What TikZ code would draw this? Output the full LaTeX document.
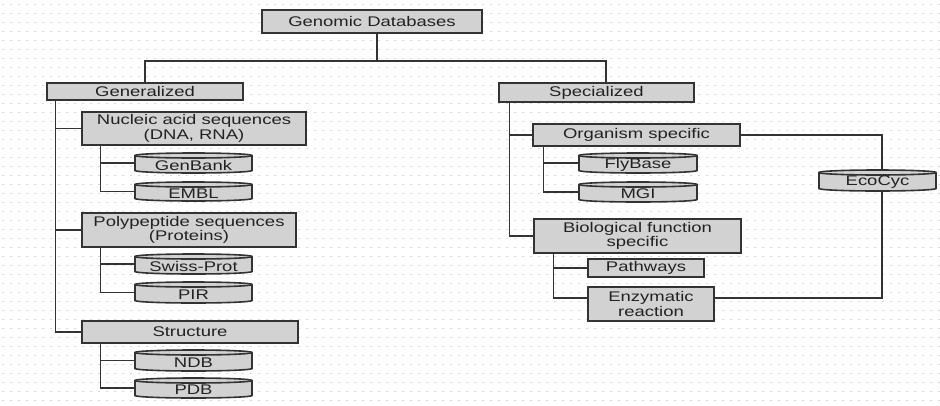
\documentclass[tikz,border=0pt]{standalone}
\usepackage{fontspec}
\newfontfamily\dfont[FakeStretch=1.32]{Liberation Sans}
\definecolor{edge}{HTML}{333333}
\definecolor{boxfill}{HTML}{D2D2D2}
\definecolor{txt}{HTML}{222222}
\definecolor{dotc}{HTML}{D8D8D8}
\newcommand\bx[6]{\node[box, minimum width={#4-#2}, minimum height={#5-#3}] (#1) at ({(#2+#4)/2},{-(#3+#5)/2}) {#6};}
\newcommand\cyl[6]{%
  \pgfmathsetmacro\cxa{#2}\pgfmathsetmacro\cxb{#4}%
  \pgfmathsetmacro\cya{-#3}\pgfmathsetmacro\cyb{-#5}%
  \pgfmathsetmacro\crx{(#4-#2)/2}%
  \filldraw[cylst] (\cxa,\cya-2.5) -- (\cxa,\cyb+2.5) arc[start angle=180,end angle=360,x radius=\crx,y radius=2.5] -- (\cxb,\cya-2.5) arc[start angle=0,end angle=180,x radius=\crx,y radius=2.5] -- cycle;
  \draw[cylst] (\cxa,\cya-2.5) arc[start angle=180,end angle=360,x radius=\crx,y radius=2.5];
  \node[minimum width={#4-#2}, minimum height={#5-#3}] (#1) at ({(#2+#4)/2},{-(#3+#5)/2}) {};
  \node at ({(#2+#4)/2},{-(#3+#5)/2-2}) {#6};}
\begin{document}
\begin{tikzpicture}[x=1pt,y=1pt,
  every node/.style={font=\dfont\fontsize{14}{14.5}\selectfont, text=txt, align=center, inner sep=0pt},
  box/.style={draw=edge, line width=1.6pt, fill=boxfill},
  cylst/.style={draw=edge, line width=1.6pt, fill=boxfill},
  link/.style={draw=edge, line width=1.4pt}]
\useasboundingbox (0,0) rectangle (940,-405);
\fill[white] (0,0) rectangle (940,-405);
\foreach \j in {0,...,44} {\foreach \i in {0,...,117} {\fill[dotc] ({\i*8+2},{-\j*9-4}) rectangle ++(2,-1);}}
% boxes
\bx{root}{262}{10}{482}{33}{Genomic Databases}
\bx{gen}{47}{83}{243}{100}{Generalized}
\bx{nuc}{82}{112}{306}{145}{Nucleic acid sequences\\(DNA, RNA)}
\bx{poly}{82}{213}{296}{247}{Polypeptide sequences\\(Proteins)}
\bx{struc}{82}{321}{298}{343}{Structure}
\bx{spec}{499}{83}{694}{102}{Specialized}
\bx{org}{533}{124}{740}{146}{Organism specific}
\bx{bio}{534}{219}{741}{253}{Biological function\\specific}
\bx{path}{588}{259}{704}{277}{Pathways}
\bx{enz}{588}{287}{714}{321}{Enzymatic\\reaction}
% cylinders
\cyl{genbank}{135}{153}{252}{173}{GenBank}
\cyl{embl}{135}{182}{252}{201}{EMBL}
\cyl{swiss}{135}{254}{252}{274}{Swiss-Prot}
\cyl{pir}{135}{282}{252}{303}{PIR}
\cyl{ndb}{135}{350}{252}{371}{NDB}
\cyl{pdb}{135}{378}{252}{398}{PDB}
\cyl{fly}{579}{153}{697}{173}{FlyBase}
\cyl{mgi}{579}{182}{697}{202}{MGI}
\cyl{eco}{819}{170}{936}{191}{EcoCyc}
% connectors
\coordinate (rj) at (377,-61);
\draw[link] ([xshift=5pt]root.south) -- (rj);
\draw[link] (gen.north) |- (rj) -| ([xshift=9.5pt]spec.north);
\coordinate (gt) at ([xshift=9pt]gen.south west);
\draw[link] (gt) |- (struc.west);
\draw[link] (gt |- nuc.west) -- (nuc.west);
\draw[link] (gt |- poly.west) -- (poly.west);
\coordinate (nt) at ([xshift=19pt]nuc.south west);
\draw[link] (nt) |- (embl.west);
\draw[link] (nt |- genbank.west) -- (genbank.west);
\coordinate (pt) at ([xshift=19pt]poly.south west);
\draw[link] (pt) |- (pir.west);
\draw[link] (pt |- swiss.west) -- (swiss.west);
\coordinate (st) at ([xshift=19pt]struc.south west);
\draw[link] (st) |- (pdb.west);
\draw[link] (st |- ndb.west) -- (ndb.west);
\coordinate (spt) at ([xshift=11pt]spec.south west);
\draw[link] (spt) |- (bio.west);
\draw[link] (spt |- org.west) -- (org.west);
\coordinate (ot) at ([xshift=11pt]org.south west);
\draw[link] (ot) |- (mgi.west);
\draw[link] (ot |- fly.west) -- (fly.west);
\coordinate (bt) at ([xshift=20pt]bio.south west);
\draw[link] (bt) |- ([yshift=6pt]enz.west);
\draw[link] (bt |- path.west) -- (path.west);
\draw[link] (org.east) -| ([xshift=4.5pt]eco.north);
\draw[link] ([xshift=4.5pt]eco.south) |- ([yshift=6pt]enz.east);
\end{tikzpicture}
\end{document}
